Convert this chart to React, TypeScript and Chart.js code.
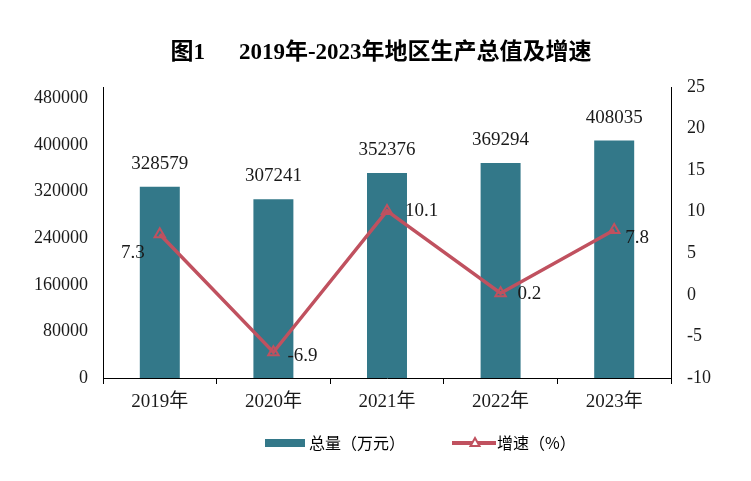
import React, { useEffect, useRef } from "react";
import { Chart, registerables } from "chart.js";

Chart.register(...registerables);

const categories = ["2019年", "2020年", "2021年", "2022年", "2023年"];
const totals = [328579, 307241, 352376, 369294, 408035];
const growth = [7.3, -6.9, 10.1, 0.2, 7.8];
const growthLabels = ["7.3", "-6.9", "10.1", "0.2", "7.8"];
const leftTicks = [0, 80000, 160000, 240000, 320000, 400000, 480000];
const rightTicks = [-10, -5, 0, 5, 10, 15, 20, 25];

const BAR_COLOR = "#337889";
const LINE_COLOR = "#C0515F";
const FONT = '"Liberation Serif", "Noto Sans CJK SC", serif';
const CJK = '"Noto Sans CJK SC", "Liberation Serif", sans-serif';

// label offsets for growth values (dx, dy, align)
const growthLabelPlacement: [number, number, CanvasTextAlign][] = [
  [-15, 19, "right"],
  [14, 4, "left"],
  [18, 0, "left"],
  [17, 1, "left"],
  [11, 8, "left"],
];

const overlayPlugin = {
  id: "overlay",
  afterDatasetsDraw(chart: any) {
    const ctx = chart.ctx as CanvasRenderingContext2D;
    ctx.save();
    const barMeta = chart.getDatasetMeta(0);
    ctx.font = `19px ${FONT}`;
    ctx.fillStyle = "#1a1a1a";
    ctx.textAlign = "center";
    ctx.textBaseline = "middle";
    barMeta.data.forEach((el: any, i: number) => {
      ctx.fillText(String(totals[i]), el.x, el.y - 23);
    });
    const lineMeta = chart.getDatasetMeta(1);
    lineMeta.data.forEach((el: any, i: number) => {
      const [dx, dy, align] = growthLabelPlacement[i];
      ctx.textAlign = align;
      ctx.fillText(growthLabels[i], el.x + dx, el.y + dy);
    });
    ctx.restore();
  },
  afterDraw(chart: any) {
    const ctx = chart.ctx as CanvasRenderingContext2D;
    ctx.save();
    ctx.fillStyle = "#000";
    ctx.textBaseline = "middle";
    ctx.textAlign = "left";
    ctx.font = `bold 23px ${FONT}`;
    const t1 = "图1";
    const t2 = "2019年-2023年地区生产总值及增速";
    const gap = 34;
    const w1 = ctx.measureText(t1).width;
    const w2 = ctx.measureText(t2).width;
    const total = w1 + gap + w2;
    const cx = 381;
    const startX = cx - total / 2;
    ctx.fillText(t1, startX, 53);
    ctx.fillText(t2, startX + w1 + gap, 53);

    const ly = 443;
    ctx.fillStyle = BAR_COLOR;
    ctx.fillRect(265, ly - 4, 40, 8);
    ctx.fillStyle = "#000";
    ctx.font = `16px ${CJK}`;
    ctx.fillText("总量（万元）", 309, ly);
    ctx.strokeStyle = LINE_COLOR;
    ctx.lineWidth = 4;
    ctx.beginPath();
    ctx.moveTo(452, ly);
    ctx.lineTo(496, ly);
    ctx.stroke();
    ctx.lineWidth = 2;
    ctx.fillStyle = "#fff";
    ctx.beginPath();
    ctx.moveTo(475, ly - 5);
    ctx.lineTo(479.5, ly + 3);
    ctx.lineTo(470.5, ly + 3);
    ctx.closePath();
    ctx.fill();
    ctx.stroke();
    ctx.fillStyle = "#000";
    ctx.fillText("增速（%）", 497, ly);
    ctx.restore();
  },
};

export default function App() {
  const ref = useRef<HTMLCanvasElement | null>(null);
  useEffect(() => {
    if (!ref.current) return;
    const chart = new Chart(ref.current, {
      type: "bar",
      data: {
        labels: categories,
        datasets: [
          {
            type: "bar",
            label: "总量（万元）",
            data: totals,
            backgroundColor: BAR_COLOR,
            yAxisID: "y",
            barPercentage: 0.352,
            categoryPercentage: 1,
            order: 1,
          },
          {
            type: "line",
            label: "增速（%）",
            data: growth,
            borderColor: LINE_COLOR,
            borderWidth: 3.5,
            pointStyle: "triangle",
            pointRadius: 6,
            pointBorderWidth: 2,
            pointBorderColor: LINE_COLOR,
            pointBackgroundColor: "rgba(0,0,0,0)",
            yAxisID: "y1",
            order: 0,
            tension: 0,
          } as any,
        ],
      },
      options: {
        responsive: false,
        animation: false,
        layout: { padding: { top: 87, left: 0, right: 0, bottom: 0 } },
        plugins: {
          legend: { display: false },
          title: { display: false },
          tooltip: { enabled: false },
        },
        scales: {
          x: {
            grid: {
              display: true,
              drawOnChartArea: false,
              drawTicks: true,
              tickLength: 6,
              color: "#000",
              offset: true,
            },
            border: { display: true, color: "#000", width: 1 },
            ticks: {
              color: "#1a1a1a",
              font: { family: FONT, size: 19 },
              padding: 7,
            },
            afterFit(axis: any) {
              axis.height = 103;
            },
          },
          y: {
            position: "left",
            min: 0,
            max: 500000,
            grid: { display: false, drawTicks: false },
            border: { display: true, color: "#000", width: 1 },
            ticks: {
              color: "#1a1a1a",
              font: { family: FONT, size: 18 },
              padding: 15,
              callback: (v: any) => String(v),
            },
            afterBuildTicks(axis: any) {
              axis.ticks = leftTicks.map((v) => ({ value: v }));
            },
            afterFit(axis: any) {
              axis.width = 103;
            },
          },
          y1: {
            position: "right",
            min: -10,
            max: 25,
            grid: { display: false, drawTicks: false },
            border: { display: true, color: "#000", width: 1 },
            ticks: {
              color: "#1a1a1a",
              font: { family: FONT, size: 18 },
              padding: 16,
              callback: (v: any) => String(v),
            },
            afterBuildTicks(axis: any) {
              axis.ticks = rightTicks.map((v) => ({ value: v }));
            },
            afterFit(axis: any) {
              axis.width = 80;
            },
          },
        },
      } as any,
      plugins: [overlayPlugin],
    });
    return () => chart.destroy();
  }, []);
  return (
    <div style={{ position: "fixed", left: 0, top: 0, width: 751, height: 481, background: "#fff" }}>
      <canvas ref={ref} width={751} height={481} style={{ width: 751, height: 481, display: "block" }} />
    </div>
  );
}
